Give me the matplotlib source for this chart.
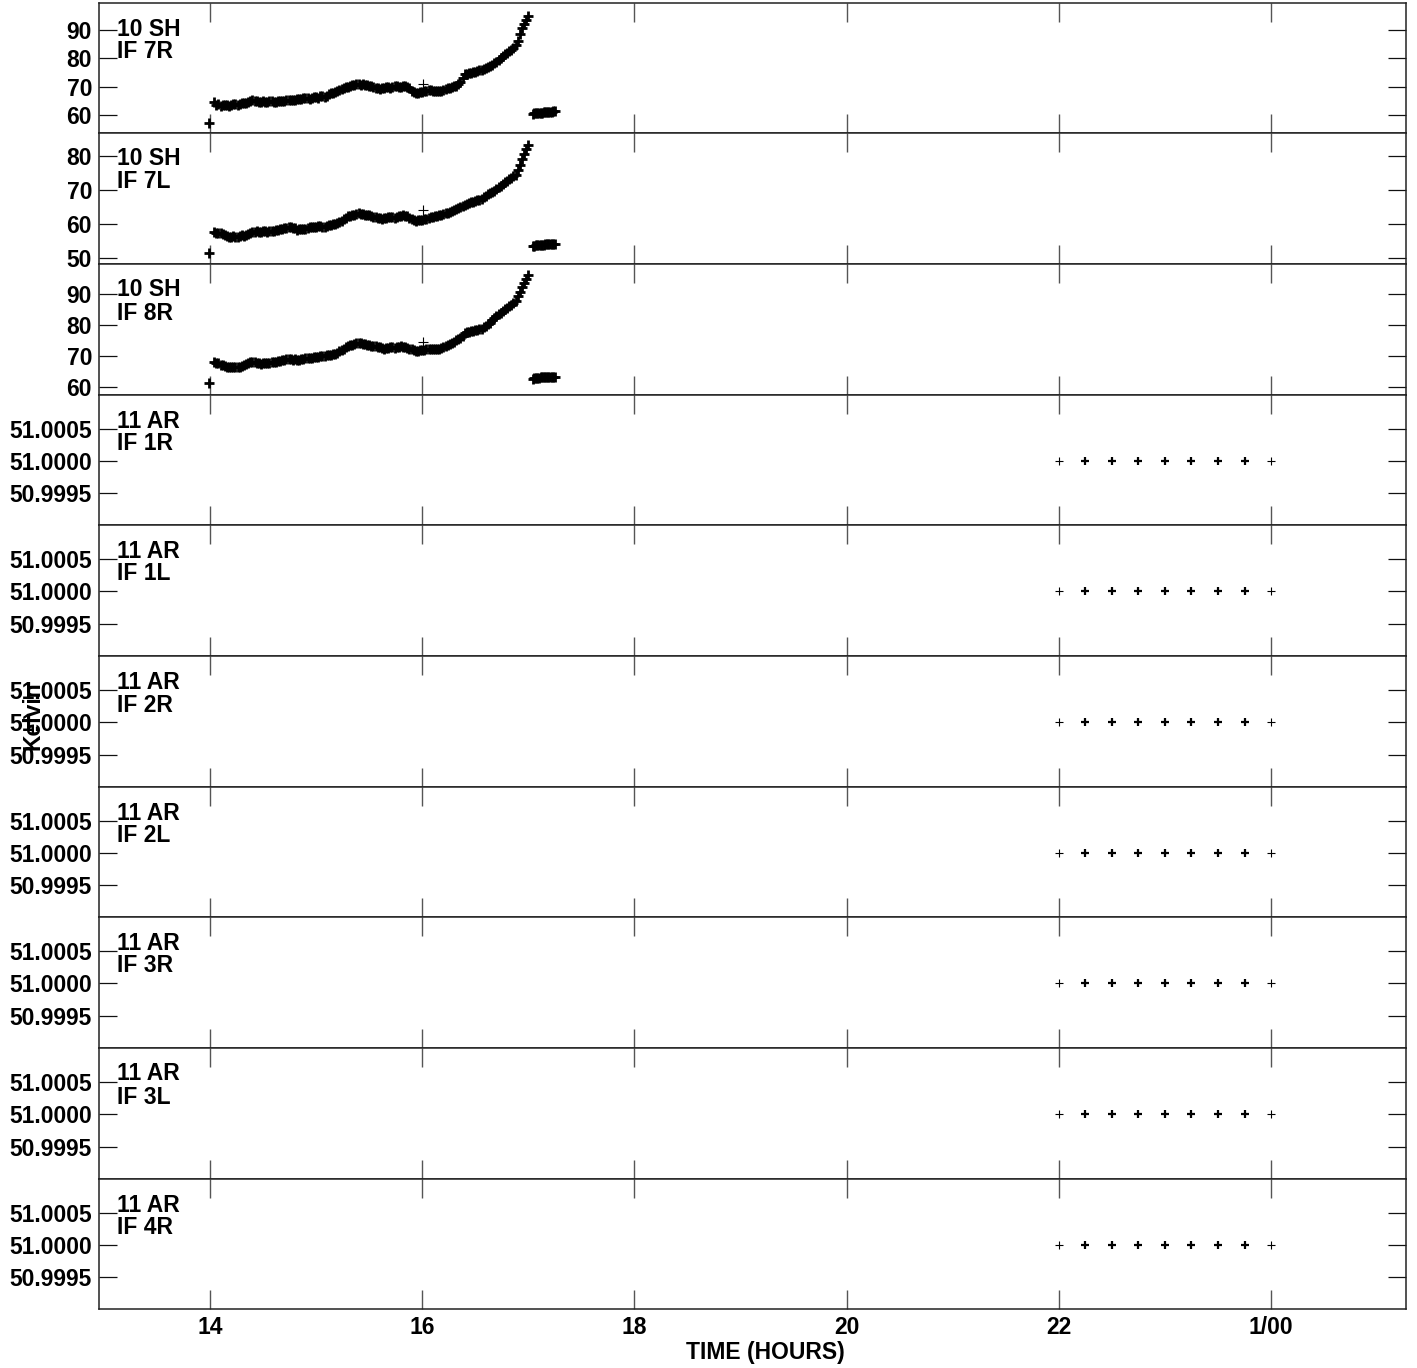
import matplotlib
matplotlib.use('Agg')
import matplotlib.pyplot as plt
from matplotlib.ticker import FixedLocator, FixedFormatter

plt.rcParams['font.family'] = ['Liberation Sans', 'DejaVu Sans']
plt.rcParams['font.weight'] = 'bold'

# ---------------- data ----------------
stations = ['10 SH', '10 SH', '10 SH', '11 AR', '11 AR', '11 AR', '11 AR', '11 AR', '11 AR', '11 AR']
if_labels = ['IF 7R', 'IF 7L', 'IF 8R', 'IF 1R', 'IF 1L', 'IF 2R', 'IF 2L', 'IF 3R', 'IF 3L', 'IF 4R']

x_ticks = [14, 16, 18, 20, 22, 24]
x_ticklabels = ['14', '16', '18', '20', '22', '1/00']

# SH main track times (hours), set A
sh_time = [14.04, 14.08, 14.12, 14.16, 14.20, 14.24, 14.28, 14.32, 14.36, 14.40,
           14.44, 14.48, 14.52, 14.56, 14.60, 14.64, 14.68, 14.72, 14.76, 14.80,
           14.84, 14.88, 14.92, 14.96, 15.00, 15.04, 15.08, 15.12, 15.16, 15.20,
           15.24, 15.28, 15.32, 15.36, 15.40, 15.44, 15.48, 15.52, 15.56, 15.60,
           15.64, 15.68, 15.72, 15.76, 15.80, 15.84, 15.88, 15.92, 15.96, 16.00,
           16.04, 16.08, 16.12, 16.16, 16.20, 16.24, 16.28, 16.32, 16.36, 16.40,
           16.44, 16.48, 16.52, 16.56, 16.60, 16.64, 16.68, 16.72, 16.76, 16.80,
           16.84, 16.88, 16.92, 16.96, 17.00]

sh_7r = [64.5, 63.8, 63.4, 63.4, 63.6, 63.7, 63.8, 64.2, 64.6, 65.2,
         64.9, 64.7, 64.7, 64.8, 64.7, 64.8, 65.0, 65.1, 65.3, 65.4,
         65.6, 65.8, 65.9, 66.0, 66.2, 66.5, 66.4, 67.2, 67.8, 68.4,
         69.2, 69.9, 70.2, 70.5, 70.9, 70.8, 70.5, 70.1, 69.6, 69.3,
         69.6, 69.8, 70.0, 70.2, 69.9, 70.1, 69.6, 68.0, 67.8, 68.1,
         68.6, 68.8, 68.5, 68.3, 68.9, 69.4, 69.8, 70.3, 71.5, 74.6,
         74.8, 75.0, 75.4, 76.0, 76.6, 77.3, 78.2, 79.4, 80.8, 82.0,
         83.0, 84.5, 88.5, 92.0, 95.0]

sh_7l = [57.6, 57.4, 57.0, 56.5, 56.3, 56.3, 56.4, 56.5, 57.0, 57.6,
         57.8, 57.7, 57.8, 57.9, 58.0, 58.3, 58.6, 58.8, 59.0, 58.7,
         58.4, 58.5, 58.8, 59.0, 59.2, 59.4, 59.2, 59.6, 59.9, 60.2,
         61.0, 61.9, 62.4, 62.6, 63.1, 62.9, 62.6, 62.3, 62.0, 61.8,
         61.7, 62.0, 62.1, 62.0, 62.3, 62.4, 61.9, 61.3, 61.1, 61.2,
         61.6, 62.0, 62.2, 62.5, 62.9, 63.3, 63.8, 64.5, 65.0, 65.6,
         66.2, 66.6, 67.0, 67.4, 68.3, 69.0, 69.8, 70.8, 71.8, 72.8,
         73.5, 74.5, 77.5, 80.5, 83.3]

sh_8r = [68.0, 67.6, 67.0, 66.5, 66.3, 66.4, 66.6, 67.2, 67.8, 68.1,
         67.8, 67.5, 67.6, 67.8, 68.0, 68.3, 68.7, 69.0, 69.0, 68.9,
         68.8, 69.0, 69.3, 69.4, 69.6, 70.0, 70.1, 70.3, 70.6, 71.1,
         72.0, 72.8, 73.4, 73.8, 74.3, 74.0, 73.6, 73.2, 73.2, 72.8,
         72.4, 72.6, 72.9, 72.8, 73.1, 73.0, 72.4, 71.8, 71.7, 71.9,
         72.2, 72.3, 72.1, 72.4, 72.9, 73.5, 74.2, 75.0, 75.8, 77.3,
         77.9, 78.1, 78.4, 78.8, 79.6, 80.8, 82.3, 83.4, 84.6, 85.6,
         86.6, 87.8, 90.8, 93.5, 96.0]

# SH main track, set B (samples in between set A)
sh_time_b = [14.06, 14.10, 14.14, 14.18, 14.22, 14.26, 14.30, 14.34, 14.38, 14.42,
             14.46, 14.50, 14.54, 14.58, 14.62, 14.66, 14.70, 14.74, 14.78, 14.82,
             14.86, 14.90, 14.94, 14.98, 15.02, 15.06, 15.10, 15.14, 15.18, 15.22,
             15.26, 15.30, 15.34, 15.38, 15.42, 15.46, 15.50, 15.54, 15.58, 15.62,
             15.66, 15.70, 15.74, 15.78, 15.82, 15.86, 15.90, 15.94, 15.98, 16.02,
             16.06, 16.10, 16.14, 16.18, 16.22, 16.26, 16.30, 16.34, 16.38, 16.42,
             16.46, 16.50, 16.54, 16.58, 16.62, 16.66, 16.70, 16.74, 16.78, 16.82,
             16.86, 16.90, 16.94, 16.98]

sh_7r_b = [63.6, 63.2, 63.5, 63.3, 63.9, 63.5, 64.1, 64.3, 65.0, 64.8,
           64.6, 64.9, 64.6, 64.9, 64.6, 65.0, 64.9, 65.3, 65.2, 65.7,
           65.5, 66.0, 65.7, 66.2, 66.1, 66.8, 66.7, 67.6, 68.0, 68.9,
           69.4, 70.0, 70.4, 70.8, 70.6, 70.7, 70.2, 69.8, 69.5, 69.5,
           69.9, 69.6, 70.3, 69.8, 70.3, 69.8, 68.6, 67.7, 68.0, 68.3,
           68.9, 68.6, 68.4, 68.6, 69.1, 69.6, 70.1, 70.8, 73.0, 74.5,
           74.9, 75.2, 75.7, 76.2, 77.0, 77.7, 78.8, 80.0, 81.5, 82.4,
           83.6, 86.0, 90.5, 93.5]

sh_7l_b = [57.3, 57.2, 56.6, 56.2, 56.4, 56.2, 56.6, 56.8, 57.4, 57.7,
           57.6, 57.9, 57.7, 58.0, 58.2, 58.5, 58.7, 59.0, 58.8, 58.3,
           58.6, 58.6, 59.0, 59.1, 59.3, 59.2, 59.5, 59.8, 60.0, 60.6,
           61.5, 62.2, 62.5, 62.9, 63.0, 62.7, 62.5, 62.1, 61.9, 61.6,
           61.9, 62.1, 61.9, 62.2, 62.5, 62.2, 61.5, 61.0, 61.2, 61.4,
           61.8, 62.1, 62.3, 62.7, 63.1, 63.5, 64.2, 64.7, 65.3, 65.9,
           66.4, 66.8, 67.2, 67.9, 68.7, 69.4, 70.3, 71.3, 72.3, 73.1,
           74.0, 76.0, 79.0, 82.0]

sh_8r_b = [67.8, 67.2, 66.7, 66.3, 66.5, 66.4, 66.9, 67.5, 68.0, 67.9,
           67.6, 67.6, 67.7, 67.9, 68.2, 68.5, 68.8, 69.1, 68.8, 68.8,
           68.9, 69.2, 69.3, 69.6, 69.8, 70.0, 70.2, 70.4, 70.8, 71.5,
           72.4, 73.1, 73.6, 74.1, 74.2, 73.8, 73.4, 73.3, 73.0, 72.6,
           72.5, 72.8, 72.7, 73.0, 73.0, 72.7, 72.1, 71.6, 71.8, 72.0,
           72.3, 72.2, 72.2, 72.6, 73.2, 73.8, 74.6, 75.4, 76.6, 77.6,
           78.0, 78.3, 78.6, 79.2, 80.2, 81.5, 82.9, 84.0, 85.1, 86.1,
           87.2, 89.3, 92.2, 94.8]

# SH second (low) segment
sh_low_time = [17.04, 17.055, 17.07, 17.085, 17.10, 17.115, 17.13, 17.145,
               17.16, 17.175, 17.19, 17.205, 17.22, 17.235, 17.25]
sh_low_7r = [60.3, 60.5, 60.6, 60.7, 60.7, 60.8, 60.8, 60.9, 60.9, 60.9, 61.0, 61.0, 61.1, 61.2, 61.4]
sh_low_7l = [53.4, 53.5, 53.7, 53.8, 53.8, 53.9, 53.9, 53.9, 54.0, 54.0, 54.0, 54.0, 54.0, 54.1, 54.1]
sh_low_8r = [62.7, 62.8, 62.9, 63.0, 63.0, 63.1, 63.1, 63.1, 63.2, 63.2, 63.2, 63.3, 63.3, 63.3, 63.3]

# SH isolated points
sh_first_time = [13.99]
sh_first = [57.3, 51.3, 61.2]
sh_flag_time = [16.01]
sh_flag = [71.0, 64.0, 74.5]

# AR constant values
ar_time = [22.0, 22.25, 22.5, 22.75, 23.0, 23.25, 23.5, 23.75, 24.0]
ar_value = [51.0, 51.0, 51.0, 51.0, 51.0, 51.0, 51.0, 51.0, 51.0]

sh_series = [sh_7r, sh_7l, sh_8r]
sh_series_b = [sh_7r_b, sh_7l_b, sh_8r_b]
sh_low = [sh_low_7r, sh_low_7l, sh_low_8r]

y_limits = [(53.6, 99.5), (48.2, 86.8), (57.4, 99.7)] + [(50.9990, 51.00103)] * 7
y_ticks = [[60, 70, 80, 90], [50, 60, 70, 80], [60, 70, 80, 90]] + [[50.9995, 51.0, 51.0005]] * 7
y_ticklabels = [['60', '70', '80', '90'], ['50', '60', '70', '80'], ['60', '70', '80', '90']] + \
               [['50.9995', '51.0000', '51.0005']] * 7

# ---------------- figure ----------------
W, H = 1417, 1368
fig = plt.figure(figsize=(W / 100, H / 100), dpi=100)
bounds = [3, 133, 264, 395, 525, 656, 787, 917, 1048, 1179, 1309]
left_px, right_px = 99, 1406
FS = 16.5
MS, MEW = 7.5, 2.0

for i in range(10):
    top, bot = bounds[i], bounds[i + 1]
    ax = fig.add_axes([left_px / W, 1 - bot / H, (right_px - left_px) / W, (bot - top) / H])
    ax.set_xlim(12.954, 25.272)
    ax.set_ylim(*y_limits[i])
    ax.xaxis.set_major_locator(FixedLocator(x_ticks))
    ax.yaxis.set_major_locator(FixedLocator(y_ticks[i]))
    ax.yaxis.set_major_formatter(FixedFormatter(y_ticklabels[i]))
    ax.tick_params(axis='x', which='major', direction='in', top=True, bottom=True,
                   length=14, width=1.0, color='#555555', labelbottom=(i == 9),
                   labelsize=FS, pad=5)
    ax.tick_params(axis='y', which='major', direction='in', left=True, right=True,
                   length=13, width=0.9, color='#111111', labelsize=FS, pad=5)
    if i == 9:
        ax.set_xticklabels(x_ticklabels, fontweight='bold')
    for lbl in ax.get_yticklabels():
        lbl.set_fontweight('bold')
    for sp in ax.spines.values():
        sp.set_linewidth(1.1)
        sp.set_color('#222222')

    if i < 3:
        for tx, yv in ((sh_time, sh_series[i]), (sh_time_b, sh_series_b[i]),
                       (sh_low_time, sh_low[i]), (sh_first_time, [sh_first[i]])):
            ax.plot(tx, yv, linestyle='none', marker='+', color='black',
                    markersize=MS, markeredgewidth=MEW)
        ax.plot(sh_flag_time, [sh_flag[i]], linestyle='none', marker='+', color='black',
                markersize=MS, markeredgewidth=0.8)
    else:
        ax.plot(ar_time[1:-1], ar_value[1:-1], linestyle='none', marker='+', color='black',
                markersize=6, markeredgewidth=1.6)
        ax.plot([ar_time[0], ar_time[-1]], [ar_value[0], ar_value[-1]], linestyle='none',
                marker='+', color='black', markersize=6, markeredgewidth=0.8)

    ax.text(18 / (right_px - left_px), 1 - 26 / (bot - top), stations[i], transform=ax.transAxes,
            fontsize=FS, fontweight='bold', va='center', ha='left')
    ax.text(18 / (right_px - left_px), 1 - 49 / (bot - top), if_labels[i], transform=ax.transAxes,
            fontsize=FS, fontweight='bold', va='center', ha='left')

fig.text(33 / W, 1 - 716 / H, 'Kelvin', rotation=90, ha='center', va='center',
         fontsize=FS, fontweight='bold')
fig.text(765 / W, 1 - 1353 / H, 'TIME (HOURS)', ha='center', va='center',
         fontsize=FS, fontweight='bold')

fig.savefig('out.png', dpi=100)
